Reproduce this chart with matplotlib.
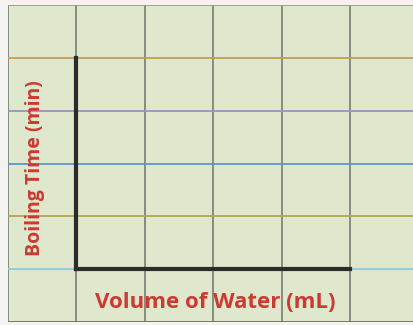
import matplotlib
matplotlib.use("Agg")
import matplotlib.pyplot as plt

# empty graph template: grid of cells, L-shaped axes, axis titles
x_title = "Volume of Water (mL)"
y_title = "Boiling Time (min)"
col_lines = [0, 1, 2, 3, 4, 5]
row_lines = [0, 1, 2, 3, 4, 5, 6]
row_colors = ["#6f6f66", "#8fc8dc", "#b7a54e", "#5f93cf", "#9d92c2", "#d39a4c", "#b3907a"]
axis_x = [1, 5]   # horizontal axis from col 1 to col 5
axis_y = [1, 5]   # vertical axis from row 1 to row 5

fig = plt.figure(figsize=(4.14, 3.25), dpi=100)
fig.patch.set_facecolor("#f3f3f1")
ax = fig.add_axes([8 / 414, 3 / 325, 406 / 414, 317 / 325])
ax.set_facecolor("#dfe7cd")
ax.set_xlim(0, 406 / 68.5)
ax.set_ylim(0, 6)
for s in ax.spines.values():
    s.set_visible(False)
ax.set_xticks([])
ax.set_yticks([])

for c in col_lines:
    ax.axvline(c, color="#6e7566", lw=1.1, zorder=1)
for r, col in zip(row_lines, row_colors):
    ax.axhline(r, color=col, lw=1.3, zorder=1)

ax.plot([axis_x[0], axis_x[0]], [axis_y[0], axis_y[1]], color="#2b2b2b", lw=3, solid_capstyle="projecting", zorder=3)
ax.plot([axis_x[0], axis_x[1]], [axis_y[0], axis_y[0]], color="#2b2b2b", lw=3, solid_capstyle="projecting", zorder=3)

ax.text(3.03, 0.37, x_title, color="#cc3a32", fontsize=16, fontweight="bold",
        family="Open Sans", ha="center", va="center")
ax.text(0.39, 2.92, y_title, color="#cc3a32", fontsize=14, fontweight="bold",
        family="Open Sans", ha="center", va="center", rotation=90)

fig.savefig("out.png", dpi=100, facecolor=fig.get_facecolor())
